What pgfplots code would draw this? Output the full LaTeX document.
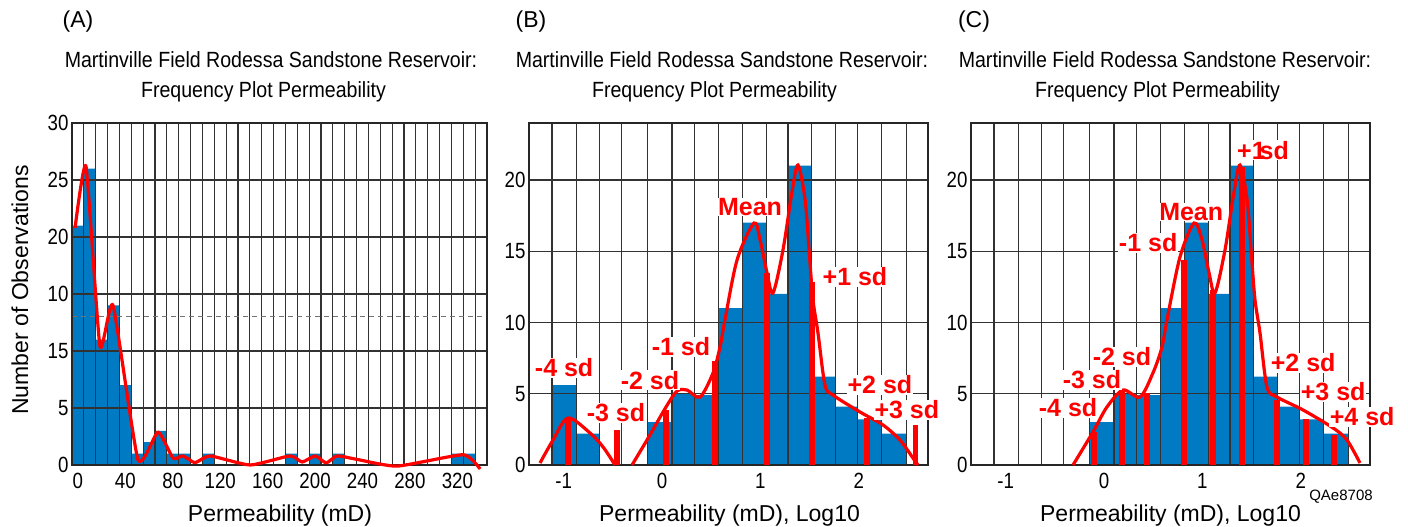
\documentclass[border=0pt]{standalone}
\usepackage{fontspec}
\setmainfont{Liberation Sans}
\newfontfamily\narrowfont[FakeStretch=0.85]{Liberation Sans}
\newfontfamily\titlefont[FakeStretch=0.89]{Liberation Sans}
\usepackage{pgfplots}
\pgfplotsset{compat=1.18}
\definecolor{barblue}{RGB}{0,122,194}
\definecolor{gridc}{RGB}{50,50,50}
\definecolor{lred}{RGB}{255,0,0}
\pgfplotsset{
  panel/.style={
    scale only axis, width=399pt, height=342pt, anchor=south west,
    set layers, clip=false,
    axis line style={line width=2.6pt, black!85},
    major tick length=0pt, minor tick length=0pt,
    tick label style={font=\narrowfont\fontsize{22}{24}\selectfont},
    /pgf/number format/assume math mode=true,
    major grid style={line width=1.2pt, gridc},
    xmajorgrids=true, ymajorgrids=true,
    xticklabel=\relax,
    extra x tick style={grid=none, xticklabel style={yshift=-5pt}},
  },
  bars/.style={const plot, fill=barblue, draw=none, on layer=axis background},
}
\tikzset{sdlab/.style={font=\bfseries\fontsize{25}{25}\selectfont, text=lred, fill=white, inner sep=0.5pt}}
\begin{document}
\begin{tikzpicture}[x=1pt,y=1pt]

% ---------------- Panel A ----------------
\begin{axis}[panel, at={(72pt,62pt)}, width=415pt,
  xmin=-5, xmax=345, ymin=0, ymax=30,
  xtick={5,15,...,335},
  extra x ticks={0,40,80,120,160,200,240,280,320},
  extra x tick labels={0,40,80,120,160,200,240,280,320},
  ytick={0,5,10,15,20,25,30},
  yticklabels={0,5,15,10,20,25,30},
  extra y ticks={13}, extra y tick labels={},
  extra y tick style={grid=major, major grid style={dash pattern=on 5pt off 4pt, line width=0.8pt, black!55}},
]
\addplot[bars] coordinates {(-5,21) (5,26) (15,11) (25,14) (35,7) (45,1) (55,2) (65,3) (75,1) (85,1) (95,0) (105,1) (115,0) (175,1) (185,0) (195,1) (205,0) (215,1) (225,0) (315,1) (325,1) (335,0) (345,0)} \closedcycle;
\addplot[lred, line width=3.2pt, smooth, tension=0.3, line join=round] coordinates {(-2.4,20.8) (6.8,26.2) (18.6,10.4) (29.6,14.0) (50.7,0.44) (67.5,2.9) (80.2,0.6) (88.6,0.8) (98.7,0.2) (111.4,0.8) (145.2,0) (178.9,0.8) (189.1,0.26) (200.1,0.8) (209.4,0.18) (218.6,0.8) (235,0.5) (269.2,-0.1) (324.9,0.9) (339.2,-0.35)};
\end{axis}

% ---------------- Panel B ----------------
\begin{axis}[panel, at={(529pt,62pt)},
  xmin=-1.354, xmax=2.705, ymin=0, ymax=24,
  xtick={-1.12,-0.87,-0.64,-0.41,-0.15,0.10,0.33,0.57,0.82,1.06,1.28,1.52,1.76,1.99,2.23,2.49},
  extra x ticks={-1,0,1,2}, extra x tick labels={-1,0,1,2},
  ytick={0,5,10,15,20}, yticklabels={0,5,10,15,20},
]
\addplot[bars] coordinates {(-1.12,5.6) (-0.87,2.2) (-0.64,0) (-0.15,3) (0.10,5) (0.33,4.9) (0.57,11) (0.82,17) (1.06,12) (1.28,21) (1.52,6.2) (1.76,4.1) (1.99,3.2) (2.23,2.2) (2.49,0)} \closedcycle;
\addplot[lred, line width=3.2pt, smooth, tension=0.5] coordinates {(-1.242,0.14) (-1.11,1.75) (-0.957,3.30) (-0.734,2.25) (-0.60,1.26) (-0.479,0)};
\addplot[lred, line width=3.2pt, smooth, tension=0.5] coordinates {(-0.306,0) (-0.154,1.75) (0.040,4.07) (0.152,5.19) (0.254,5.26) (0.386,4.77) (0.518,6.46) (0.589,8.28) (0.640,10.2) (0.763,14.4) (0.935,16.98) (0.996,15.8) (1.067,13.5) (1.128,12.07) (1.23,15.1) (1.32,19.1) (1.382,21.05) (1.455,18.6) (1.50,14.6) (1.535,11.58) (1.586,9.26) (1.657,5.61) (1.738,4.91) (2.013,3.72) (2.247,2.81) (2.420,1.75) (2.552,0.49) (2.603,0)};
\addplot[ycomb, lred, line width=5.5pt, mark=none] coordinates {(-0.957,3.3) (-0.459,2.46) (0.040,3.86) (0.538,7.3) (1.067,13.5) (1.524,12.84) (2.083,3.3) (2.58,2.81)};
\node[sdlab] at (axis cs:-0.997,6.81) {-4 sd};
\node[sdlab] at (axis cs:-0.469,3.65) {-3 sd};
\node[sdlab] at (axis cs:-0.123,5.96) {-2 sd};
\node[sdlab] at (axis cs:0.192,8.28) {-1 sd};
\node[sdlab] at (axis cs:0.894,18.1) {Mean};
\node[sdlab] at (axis cs:1.962,13.19) {+1 sd};
\node[sdlab] at (axis cs:2.216,5.61) {+2 sd};
\node[sdlab] at (axis cs:2.49,3.86) {+3 sd};
\end{axis}

% ---------------- Panel C ----------------
\begin{axis}[panel, at={(971pt,62pt)},
  xmin=-1.354, xmax=2.705, ymin=0, ymax=24,
  xtick={-1.12,-0.87,-0.64,-0.41,-0.15,0.10,0.33,0.57,0.82,1.06,1.28,1.52,1.76,1.99,2.23,2.49},
  extra x ticks={-1,0,1,2}, extra x tick labels={-1,0,1,2},
  ytick={0,5,10,15,20}, yticklabels={0,5,10,15,20},
]
\addplot[bars] coordinates {(-0.15,3) (0.10,5) (0.33,4.9) (0.57,11) (0.82,17) (1.06,12) (1.28,21) (1.52,6.2) (1.76,4.1) (1.99,3.2) (2.23,2.2) (2.49,0)} \closedcycle;
\addplot[lred, line width=3.2pt, smooth, tension=0.5] coordinates {(-0.316,0) (-0.113,2.32) (0.029,4.07) (0.192,5.26) (0.365,4.77) (0.497,6.46) (0.589,8.28) (0.640,10.2) (0.772,14.6) (0.915,16.98) (0.996,15.8) (1.067,13.5) (1.128,12.07) (1.23,15.1) (1.32,19.1) (1.382,21.05) (1.455,18.6) (1.50,14.6) (1.535,11.58) (1.586,9.26) (1.657,5.47) (1.759,4.77) (2.024,3.86) (2.329,2.60) (2.471,1.75) (2.603,0.14)};
\addplot[ycomb, lred, line width=5.5pt, mark=none] coordinates {(-0.102,2.32) (0.182,5.26) (0.436,5.05) (0.813,14.4) (1.108,12.3) (1.404,20.9) (1.759,4.56) (2.054,3.23) (2.339,2.1)};
\node[sdlab] at (axis cs:1.617,22.1) {+1\kern-6pt sd};
\node[sdlab] at (axis cs:0.886,17.75) {Mean};
\node[sdlab] at (axis cs:0.448,15.58) {-1 sd};
\node[sdlab] at (axis cs:0.182,7.58) {-2 sd};
\node[sdlab] at (axis cs:-0.123,5.96) {-3 sd};
\node[sdlab] at (axis cs:-0.367,4.0) {-4 sd};
\node[sdlab] at (axis cs:2.025,7.16) {+2 sd};
\node[sdlab] at (axis cs:2.33,5.12) {+3 sd};
\node[sdlab] at (axis cs:2.625,3.37) {+4 sd};
\end{axis}

% ---------------- Outer texts ----------------
\begin{scope}[font=\fontsize{23}{23}\selectfont]
\node at (78,505) {(A)};
\node at (531,505) {(B)};
\node at (974,505) {(C)};
\node[anchor=base] at (280,5) {Permeability (mD)};
\node[anchor=base] at (729.5,5) {Permeability (mD), Log10};
\node[anchor=base] at (1170.5,5) {Permeability (mD), Log10};
\node[rotate=90] at (20,237) {Number of Observations};
\end{scope}
\begin{scope}[font=\titlefont\fontsize{22}{22}\selectfont]
\node[anchor=base] at (271,459) {Martinville Field Rodessa Sandstone Reservoir:};
\node[anchor=base] at (263.5,429) {Frequency Plot Permeability};
\node[anchor=base] at (722,459) {Martinville Field Rodessa Sandstone Reservoir:};
\node[anchor=base] at (714.5,429) {Frequency Plot Permeability};
\node[anchor=base] at (1165,459) {Martinville Field Rodessa Sandstone Reservoir:};
\node[anchor=base] at (1157.5,429) {Frequency Plot Permeability};
\end{scope}
\node[font=\fontsize{15}{15}\selectfont] at (1341,30) {QAe8708};

\pgfresetboundingbox
\useasboundingbox (0,0) rectangle (1408,527);
\end{tikzpicture}
\end{document}
